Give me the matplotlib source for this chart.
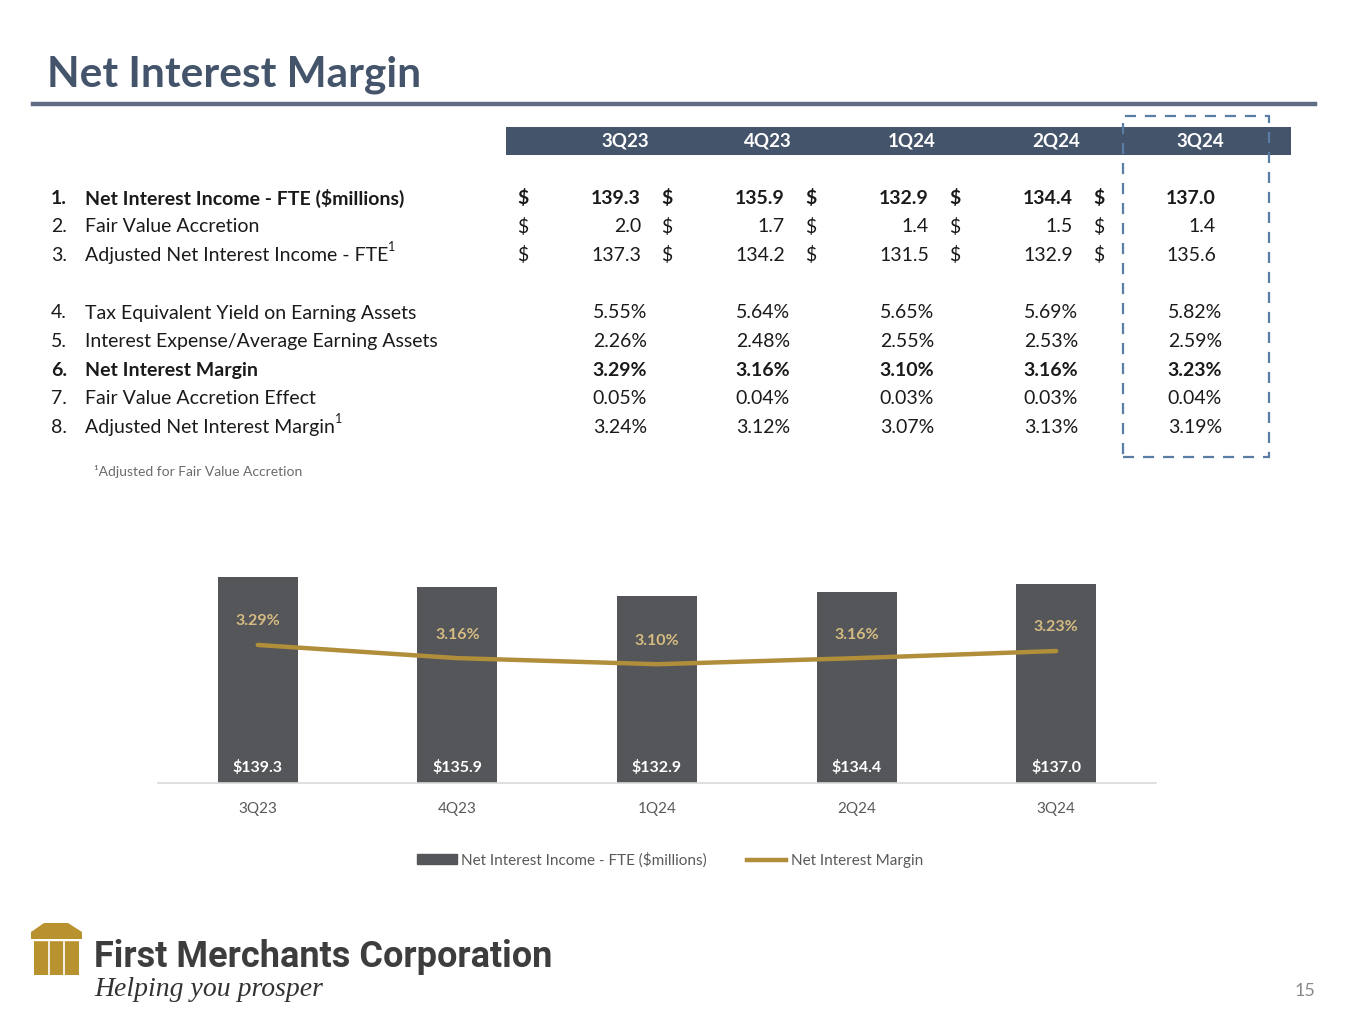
import matplotlib

matplotlib.use("Agg")
import matplotlib.pyplot as plt
from matplotlib.patches import Rectangle, Polygon, Patch
from matplotlib.lines import Line2D
import numpy as np

# ---------------------------------------------------------------------------
# data
# ---------------------------------------------------------------------------
quarters = ["3Q23", "4Q23", "1Q24", "2Q24", "3Q24"]

nii_fte = [139.3, 135.9, 132.9, 134.4, 137.0]
fair_value_accretion = [2.0, 1.7, 1.4, 1.5, 1.4]
adj_nii_fte = [137.3, 134.2, 131.5, 132.9, 135.6]

te_yield = [5.55, 5.64, 5.65, 5.69, 5.82]
int_expense = [2.26, 2.48, 2.55, 2.53, 2.59]
nim = [3.29, 3.16, 3.10, 3.16, 3.23]
fva_effect = [0.05, 0.04, 0.03, 0.03, 0.04]
adj_nim = [3.24, 3.12, 3.07, 3.13, 3.19]

dollar_labels = [
    "Net Interest Income - FTE ($millions)",
    "Fair Value Accretion",
    "Adjusted Net Interest Income - FTE",
]
pct_labels = [
    "Tax Equivalent Yield on Earning Assets",
    "Interest Expense/Average Earning Assets",
    "Net Interest Margin",
    "Fair Value Accretion Effect",
    "Adjusted Net Interest Margin",
]

# ---------------------------------------------------------------------------
# style
# ---------------------------------------------------------------------------
W, H = 1365, 1024
SLATE = "#44546a"
RULE = "#5f6e84"
INK = "#1a1a1a"
GREY_TXT = "#595959"
BAR = "#555659"
GOLD = "#b08e3a"
GOLD_LBL = "#d6bc82"
DASH = "#5a7da6"
FONT = "Lato"
FS = 14  # table font size

plt.rcParams["font.family"] = [FONT, "DejaVu Sans"]


def fx(x):
    return x / W


def fy(y):
    return 1 - y / H


fig = plt.figure(figsize=(W / 100, H / 100), dpi=100)
fig.patch.set_facecolor("white")

# title + rule
fig.text(fx(47), fy(75), "Net Interest Margin", fontsize=30.5, fontweight="bold",
         color=SLATE, va="center", ha="left")
fig.add_artist(Line2D([fx(33), fx(1315)], [fy(104), fy(104)], color=RULE, lw=3.2))

# table header
fig.add_artist(Rectangle((fx(506), fy(155)), fx(1291) - fx(506), fy(127) - fy(155),
                         transform=fig.transFigure, color=SLATE, lw=0))
col_center = [625, 768, 912, 1056, 1200]
for q, cx in zip(quarters, col_center):
    fig.text(fx(cx), fy(141), q, color="white", fontsize=13.5, fontweight="bold",
             ha="center", va="center")

# highlighted column
fig.add_artist(Rectangle((fx(1123), fy(457)), fx(1269) - fx(1123), fy(116) - fy(457),
                         transform=fig.transFigure, fill=False, ec=DASH, lw=1.6,
                         ls=(0, (5, 4))))

renderer = fig.canvas.get_renderer()


def row_label(y, num, label, bold, sup=False):
    w = "bold" if bold else "normal"
    fig.text(fx(51), fy(y), num, fontsize=FS, fontweight=w, color=INK, va="center")
    t = fig.text(fx(85), fy(y), label, fontsize=FS, fontweight=w, color=INK,
                 va="center")
    if sup:
        bb = t.get_window_extent(renderer)
        fig.text(bb.x1 / W, fy(y - 8), "1", fontsize=9, color=INK, va="center")


dollar_x = [517, 661, 805, 949, 1093]
val_right = [641, 785, 929, 1073, 1216]
pct_right = [647, 790, 934, 1078, 1222]

dollar_rows = [nii_fte, fair_value_accretion, adj_nii_fte]
for k, (lab, vals) in enumerate(zip(dollar_labels, dollar_rows)):
    y = 198 + 28.6 * k
    bold = k == 0
    w = "bold" if bold else "normal"
    row_label(y, f"{k + 1}.", lab, bold, sup=(k == 2))
    for i, v in enumerate(vals):
        fig.text(fx(dollar_x[i]), fy(y), "$", fontsize=FS, fontweight=w, color=INK,
                 va="center", ha="left")
        fig.text(fx(val_right[i]), fy(y), f"{v:.1f}", fontsize=FS, fontweight=w,
                 color=INK, va="center", ha="right")

pct_rows = [te_yield, int_expense, nim, fva_effect, adj_nim]
for k, (lab, vals) in enumerate(zip(pct_labels, pct_rows)):
    y = 313 + 28.6 * k
    bold = k == 2
    w = "bold" if bold else "normal"
    row_label(y, f"{k + 4}.", lab, bold, sup=(k == 4))
    for i, v in enumerate(vals):
        fig.text(fx(pct_right[i]), fy(y), f"{v:.2f}%", fontsize=FS, fontweight=w,
                 color=INK, va="center", ha="right")

fig.text(fx(94), fy(472), "\u00b9Adjusted for Fair Value Accretion", fontsize=10,
         color="#6b6b6b", va="center")

# ---------------------------------------------------------------------------
# combo chart
# ---------------------------------------------------------------------------
ax = fig.add_axes([fx(158), fy(783), fx(1156) - fx(158), fy(516) - fy(783)])
x = np.arange(len(quarters))
ax.bar(x, nii_fte, width=0.4, color=BAR, zorder=2)
ax.set_xlim(-0.5, len(quarters) - 0.5)
ax.set_ylim(70, 160)
ax.set_yticks([])
for s in ["top", "left", "right"]:
    ax.spines[s].set_visible(False)
ax.spines["bottom"].set_color("#d9d9d9")
ax.spines["bottom"].set_linewidth(1.2)
ax.set_xticks(x, quarters)
ax.tick_params(axis="x", length=0, pad=14, labelsize=11, labelcolor=GREY_TXT)
for i, v in enumerate(nii_fte):
    ax.annotate(f"${v:.1f}", xy=(i, 70), xytext=(0, 11.5), textcoords="offset points",
                ha="center", va="center", color="white", fontsize=11.5,
                fontweight="bold")

ax2 = ax.twinx()
ax2.plot(x, nim, color=GOLD, lw=3.2, solid_capstyle="round", solid_joinstyle="round",
         zorder=3)
ax2.set_ylim(1.93, 4.56)
ax2.set_yticks([])
for s in ax2.spines.values():
    s.set_visible(False)
for i, v in enumerate(nim):
    ax2.annotate(f"{v:.2f}%", xy=(i, v), xytext=(0, 17), textcoords="offset points",
                 ha="center", va="center", color=GOLD_LBL, fontsize=11.5,
                 fontweight="bold")

handles = [Patch(color=BAR), Line2D([0], [0], color=GOLD, lw=3.2)]
fig.legend(handles, ["Net Interest Income - FTE ($millions)", "Net Interest Margin"],
           loc="center", bbox_to_anchor=(fx(670), fy(860)), ncol=2, frameon=False,
           fontsize=11, labelcolor=GREY_TXT, handlelength=2.6, handleheight=0.6,
           handletextpad=0.3, columnspacing=2.6)

# ---------------------------------------------------------------------------
# footer / logo
# ---------------------------------------------------------------------------
LOGO = "#b8922e"
fig.add_artist(Polygon([(fx(31), fy(939)), (fx(31), fy(932)), (fx(44), fy(923)),
                        (fx(68), fy(923)), (fx(82), fy(932)), (fx(82), fy(939))],
                       closed=True, transform=fig.transFigure, color=LOGO, lw=0))
fig.add_artist(Rectangle((fx(34), fy(975)), fx(79) - fx(34), fy(941) - fy(975),
                         transform=fig.transFigure, color=LOGO, lw=0))
for cx in [49, 64]:
    fig.add_artist(Line2D([fx(cx), fx(cx)], [fy(942), fy(975)], color="white", lw=1.2))
fig.add_artist(Line2D([fx(31), fx(82)], [fy(940), fy(940)], color="white", lw=1.0))

fig.text(fx(94), fy(957), "First Merchants Corporation", fontsize=26,
         family=["Liberation Sans Narrow", "Roboto", "DejaVu Sans"], fontweight="bold",
         color="#3d3d3d", va="center", ha="left")
fig.text(fx(94), fy(990), "Helping you prosper", fontsize=20,
         family=["Liberation Serif", "DejaVu Serif"], style="italic", color="#333333",
         va="center", ha="left")

fig.text(fx(1305), fy(991), "15", fontsize=13, color="#8a8a8a", ha="center",
         va="center")

fig.savefig("out.png", dpi=100)
